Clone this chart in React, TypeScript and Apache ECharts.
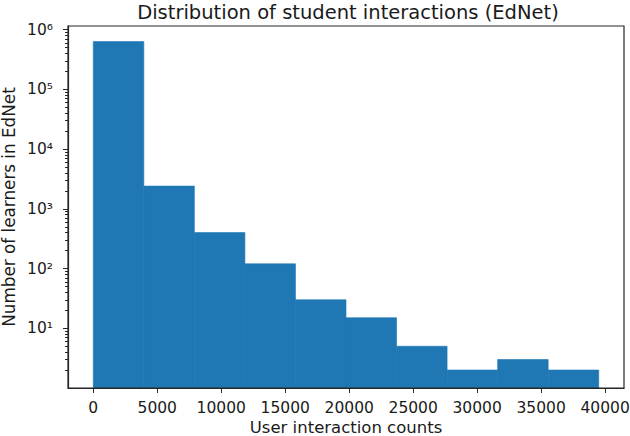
import { useEffect, useRef } from "react";
import * as echarts from "echarts";

// histogram bins (interaction counts) and learners per bin
const binEdges = [0, 3950, 7900, 11850, 15800, 19750, 23700, 27650, 31600, 35550, 39500];
const counts = [630000, 2400, 400, 120, 30, 15, 5, 2, 3, 2];

const xTicks = [0, 5000, 10000, 15000, 20000, 25000, 30000, 35000, 40000];
const yMajorTicks = [10, 100, 1000, 10000, 100000, 1000000];
const yMajorLabels = ["10¹", "10²", "10³", "10⁴", "10⁵", "10⁶"];
const yMinorTicks = [1, 10, 100, 1000, 10000, 100000].flatMap((d) =>
  [2, 3, 4, 5, 6, 7, 8, 9].map((m) => m * d)
);

const FONT = "DejaVu Sans";
const INK = "#1a1a1a";
const SPINE = "#262626";

const plotBox = { left: 68, top: 26, width: 556, height: 362 };

export default function App() {
  const chartRef = useRef<HTMLDivElement>(null);

  useEffect(() => {
    if (!chartRef.current) return;
    const chart = echarts.init(chartRef.current, undefined, { renderer: "svg" });

    const bins = counts.map((c, i) => [binEdges[i], binEdges[i + 1], c]);

    const option = {
      animation: false,
      backgroundColor: "#ffffff",
      textStyle: { fontFamily: FONT, color: INK },
      title: {
        text: "Distribution of student interactions (EdNet)",
        left: 343,
        textAlign: "center",
        top: -3,
        textStyle: { fontFamily: FONT, fontSize: 19.5, fontWeight: "normal", color: INK },
      },
      grid: [
        {
          ...plotBox,
          outerBoundsMode: "none",
          containLabel: false,
          show: true,
          borderColor: SPINE,
          borderWidth: 1.2,
          backgroundColor: "transparent",
          z: 5,
        },
        // twin grid, only carries the minor log ticks
        { ...plotBox, outerBoundsMode: "none", containLabel: false, show: false },
      ],
      xAxis: [
        {
          type: "value",
          gridIndex: 0,
          min: -1975,
          max: 41475,
          z: 5,
          name: "User interaction counts",
          nameLocation: "middle",
          nameGap: 31,
          nameMoveOverlap: false,
          nameTextStyle: { fontFamily: FONT, fontSize: 16.5, lineHeight: 17, color: INK },
          axisLine: { show: true, onZero: false, lineStyle: { color: SPINE, width: 1.2 } },
          axisTick: { show: true, length: 5, customValues: xTicks, lineStyle: { color: SPINE } },
          axisLabel: {
            customValues: xTicks,
            margin: 12,
            fontFamily: FONT,
            fontSize: 15.5,
            lineHeight: 16,
            color: INK,
            formatter: (v: number) => String(v),
          },
          splitLine: { show: false },
        },
        {
          type: "value",
          gridIndex: 1,
          min: -1975,
          max: 41475,
          show: false,
        },
      ],
      yAxis: [
        {
          type: "log",
          gridIndex: 0,
          min: 1,
          max: 1150000,
          z: 5,
          position: "left",
          name: "Number of learners in EdNet",
          nameLocation: "middle",
          nameGap: 51,
          nameMoveOverlap: false,
          nameTextStyle: { fontFamily: FONT, fontSize: 16.8, lineHeight: 17, color: INK },
          axisLine: { show: true, onZero: false, lineStyle: { color: SPINE, width: 1.2 } },
          axisTick: { show: true, length: 5, customValues: yMajorTicks, lineStyle: { color: SPINE } },
          axisLabel: {
            customValues: yMajorTicks,
            margin: 15,
            fontFamily: FONT,
            fontSize: 15.5,
            color: INK,
            formatter: (v: number) => yMajorLabels[yMajorTicks.indexOf(Math.round(v))] ?? "",
          },
          splitLine: { show: false },
          minorTick: { show: false },
        },
        {
          type: "log",
          gridIndex: 1,
          min: 1,
          max: 1150000,
          z: 5,
          position: "left",
          axisLine: { show: true, onZero: false, lineStyle: { color: SPINE, opacity: 0 } },
          axisTick: { show: true, length: 3, customValues: yMinorTicks, lineStyle: { color: SPINE } },
          axisLabel: { show: false },
          splitLine: { show: false },
        },
      ],
      series: [
        {
          type: "custom",
          xAxisIndex: 0,
          yAxisIndex: 0,
          data: bins,
          encode: { x: [0, 1], y: 2 },
          renderItem: (_params: any, api: any) => {
            const top = api.coord([api.value(0), api.value(2)]);
            const bottom = api.coord([api.value(1), 1]);
            return {
              type: "rect",
              shape: {
                x: top[0],
                y: top[1],
                width: bottom[0] - top[0],
                height: bottom[1] - top[1],
              },
              style: { fill: "#1f77b4", stroke: "#1f77b4", lineWidth: 0.6 },
            };
          },
        },
      ],
    };

    chart.setOption(option);
    return () => chart.dispose();
  }, []);

  return (
    <div
      ref={chartRef}
      style={{ position: "fixed", left: 0, top: 0, width: 630, height: 436 }}
    />
  );
}
